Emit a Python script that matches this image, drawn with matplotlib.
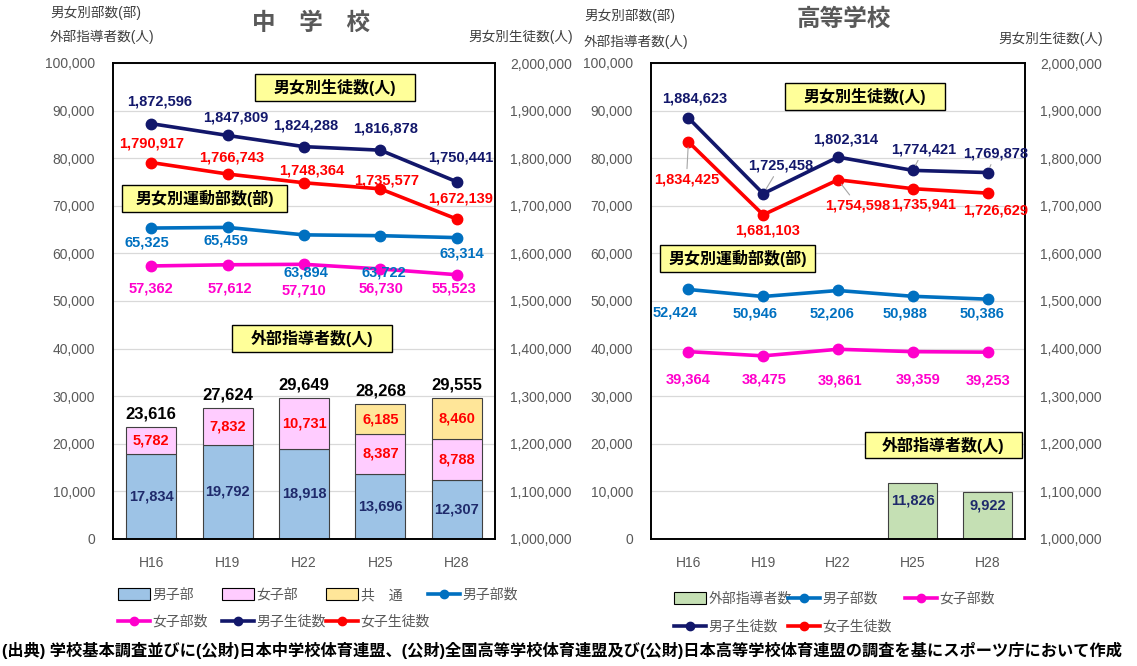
import matplotlib
matplotlib.use('Agg')
import matplotlib.pyplot as plt
from matplotlib.patches import Rectangle, Patch
from matplotlib.lines import Line2D
from matplotlib.ticker import FuncFormatter, MultipleLocator

plt.rcParams['font.family'] = ['Liberation Sans', 'Noto Sans CJK JP']

W, H = 1137, 666

years = ['H16', 'H19', 'H22', 'H25', 'H28']

# ---- 中学校 ----
jhs_coach_boys = [17834, 19792, 18918, 13696, 12307]
jhs_coach_girls = [5782, 7832, 10731, 8387, 8788]
jhs_coach_common = [0, 0, 0, 6185, 8460]
jhs_coach_total = [23616, 27624, 29649, 28268, 29555]
jhs_boys_clubs = [65325, 65459, 63894, 63722, 63314]
jhs_girls_clubs = [57362, 57612, 57710, 56730, 55523]
jhs_boys_students = [1872596, 1847809, 1824288, 1816878, 1750441]
jhs_girls_students = [1790917, 1766743, 1748364, 1735577, 1672139]

# ---- 高等学校 ----
hs_coaches = [None, None, None, 11826, 9922]
hs_boys_clubs = [52424, 50946, 52206, 50988, 50386]
hs_girls_clubs = [39364, 38475, 39861, 39359, 39253]
hs_boys_students = [1884623, 1725458, 1802314, 1774421, 1769878]
hs_girls_students = [1834425, 1681103, 1754598, 1735941, 1726629]

# label offsets (pixels)
off_jhs_bs = [(8, 22), (8, 18), (2, 21), (5, 22), (4, 24)]
off_jhs_gs = [(0, 19), (4, 17), (8, 12), (6, 8), (4, 21)]
off_jhs_bc = [(-4, -14), (-2, -13), (2, -38), (3, -37), (5, -16)]
off_jhs_gc = [(0, -23), (2, -24), (0, -26), (1, -20), (-3, -14)]
off_hs_bs = [(6, 19), (17, 28), (8, 18), (11, 21), (8, 19)]
off_hs_gs = [(-2, -38), (4, -16), (20, -26), (11, -16), (8, -17)]
off_hs_bc = [(-13, -23), (-8, -17), (-6, -23), (-8, -17), (-6, -14)]
off_hs_gc = [(0, -28), (1, -24), (2, -31), (5, -28), (0, -28)]

C_BC = '#0070C0'
C_GC = '#FF00CC'
C_BS = '#12176B'
C_GS = '#FF0000'
B_BOY = '#9DC3E6'
B_GIRL = '#FFCCFF'
B_COMMON = '#FFE699'
B_COACH = '#C5E0B4'
GRAY = '#595959'

fig = plt.figure(figsize=(W / 100, H / 100), dpi=100)

def px_ax(x0, y0, x1, y1):
    return fig.add_axes([x0 / W, 1 - y1 / H, (x1 - x0) / W, (y1 - y0) / H])

fmt = FuncFormatter(lambda v, p: f'{int(round(v)):,}')

def setup(ax, lpad, rpad):
    ax.set_xlim(-0.5, 4.5)
    ax.set_ylim(0, 100000)
    ax.yaxis.set_major_locator(MultipleLocator(10000))
    ax.yaxis.set_major_formatter(fmt)
    ax.grid(axis='y', color='#D9D9D9', lw=0.9)
    ax.set_axisbelow(True)
    ax.set_xticks(range(5))
    ax.set_xticklabels(years)
    ax.tick_params(axis='both', length=0, labelcolor=GRAY, labelsize=10)
    ax.tick_params(axis='x', pad=12)
    ax.tick_params(axis='y', pad=lpad)
    ax2 = ax.twinx()
    ax2.set_ylim(1000000, 2000000)
    ax2.yaxis.set_major_locator(MultipleLocator(100000))
    ax2.yaxis.set_major_formatter(fmt)
    ax2.tick_params(axis='y', length=0, labelcolor=GRAY, labelsize=10, pad=rpad)
    for a in (ax, ax2):
        for s in a.spines.values():
            s.set_color('#000000')
            s.set_linewidth(1.2)
    return ax2

def lab(ax, i, v, off, color, size=10.5, leader=False):
    kw = {}
    if leader:
        kw['arrowprops'] = dict(arrowstyle='-', color='#A6A6A6', lw=0.8, shrinkA=1, shrinkB=4)
    ax.annotate(f'{v:,}', (i, v), xytext=off, textcoords='offset pixels',
                ha='center', va='center', fontsize=size, fontweight='bold',
                color=color, zorder=10, **kw)

def line(ax, vals, color):
    ax.plot(range(len(vals)), vals, color=color, lw=2.6, marker='o', ms=7.5, zorder=5)

# ================= 中学校 =================
ax = px_ax(113, 63, 495, 539)
ax2 = setup(ax, 13, 11)
x = list(range(5))
bw = 0.655
ax.bar(x, jhs_coach_boys, bw, color=B_BOY, edgecolor='#404040', lw=0.8, zorder=2)
ax.bar(x, jhs_coach_girls, bw, bottom=jhs_coach_boys, color=B_GIRL, edgecolor='#404040', lw=0.8, zorder=2)
bot2 = [a + b for a, b in zip(jhs_coach_boys, jhs_coach_girls)]
ax.bar([i for i in x if jhs_coach_common[i] > 0], [c for c in jhs_coach_common if c > 0], bw,
       bottom=[bot2[i] for i in x if jhs_coach_common[i] > 0],
       color=B_COMMON, edgecolor='#404040', lw=0.8, zorder=2)
for i in x:
    ax.text(i, jhs_coach_boys[i] / 2, f'{jhs_coach_boys[i]:,}', ha='center', va='center',
            fontsize=10.5, fontweight='bold', color='#1F2A6B', zorder=6)
    ax.text(i, jhs_coach_boys[i] + jhs_coach_girls[i] / 2, f'{jhs_coach_girls[i]:,}', ha='center',
            va='center', fontsize=10.5, fontweight='bold', color=C_GS, zorder=6)
    if jhs_coach_common[i] > 0:
        ax.text(i, bot2[i] + jhs_coach_common[i] / 2, f'{jhs_coach_common[i]:,}', ha='center',
                va='center', fontsize=10.5, fontweight='bold', color=C_GS, zorder=6)
    ax.annotate(f'{jhs_coach_total[i]:,}', (i, jhs_coach_total[i]), xytext=(0, 13),
                textcoords='offset pixels', ha='center', va='center', fontsize=12,
                fontweight='bold', color='#000000', zorder=6)

line(ax, jhs_boys_clubs, C_BC)
line(ax, jhs_girls_clubs, C_GC)
line(ax2, jhs_boys_students, C_BS)
line(ax2, jhs_girls_students, C_GS)
for i in x:
    lab(ax2, i, jhs_boys_students[i], off_jhs_bs[i], C_BS)
    lab(ax2, i, jhs_girls_students[i], off_jhs_gs[i], C_GS)
    lab(ax, i, jhs_boys_clubs[i], off_jhs_bc[i], C_BC)
    lab(ax, i, jhs_girls_clubs[i], off_jhs_gc[i], C_GC)

# ================= 高等学校 =================
bx = px_ax(651, 63, 1025, 539)
bx2 = setup(bx, 13, 11)
cx = [i for i in x if hs_coaches[i] is not None]
cv = [hs_coaches[i] for i in cx]
bx.bar(cx, cv, bw, color=B_COACH, edgecolor='#404040', lw=0.8, zorder=2)
for i, v in zip(cx, cv):
    bx.annotate(f'{v:,}', (i, v / 2), xytext=(0, 10), textcoords='offset pixels', ha='center',
                va='center', fontsize=10.5, fontweight='bold', color='#1F2A6B', zorder=6)
line(bx, hs_boys_clubs, C_BC)
line(bx, hs_girls_clubs, C_GC)
line(bx2, hs_boys_students, C_BS)
line(bx2, hs_girls_students, C_GS)
lead_bs = [False, True, False, True, True]
lead_gs = [True, False, True, False, False]
for i in x:
    lab(bx2, i, hs_boys_students[i], off_hs_bs[i], C_BS, leader=lead_bs[i])
    lab(bx2, i, hs_girls_students[i], off_hs_gs[i], C_GS, leader=lead_gs[i])
    lab(bx, i, hs_boys_clubs[i], off_hs_bc[i], C_BC)
    lab(bx, i, hs_girls_clubs[i], off_hs_gc[i], C_GC)

# ---- boxes ----
def ybox(x0, y0, x1, y1, text):
    fig.patches.append(Rectangle((x0 / W, 1 - y1 / H), (x1 - x0) / W, (y1 - y0) / H,
                                 transform=fig.transFigure, facecolor='#FFFF99',
                                 edgecolor='#000000', lw=1.0, zorder=20))
    fig.text((x0 + x1) / 2 / W, 1 - (y0 + y1) / 2 / H, text, ha='center', va='center',
             fontsize=11.5, fontweight='bold', color='#000000', zorder=21)

ybox(255, 74, 415, 101, '男女別生徒数(人)')
ybox(122, 185, 287, 212, '男女別運動部数(部)')
ybox(232, 325, 392, 352, '外部指導者数(人)')
ybox(785, 83, 945, 110, '男女別生徒数(人)')
ybox(660, 245, 815, 272, '男女別運動部数(部)')
ybox(865, 432, 1022, 458, '外部指導者数(人)')

# ---- titles & axis captions ----
def ftext(xp, yp, s, **kw):
    fig.text(xp / W, 1 - yp / H, s, **kw)

ftext(311, 23, '中　学　校', ha='center', va='center', fontsize=17, fontweight='bold', color=GRAY)
ftext(844, 19, '高等学校', ha='center', va='center', fontsize=17, fontweight='bold', color=GRAY)
cap = dict(va='center', fontsize=9.8, color='#404040')
ftext(50, 13, '男女別部数(部)', ha='left', **cap)
ftext(50, 37, '外部指導者数(人)', ha='left', **cap)
ftext(573, 37, '男女別生徒数(人)', ha='right', **cap)
ftext(584, 16, '男女別部数(部)', ha='left', **cap)
ftext(584, 42, '外部指導者数(人)', ha='left', **cap)
ftext(1103, 39, '男女別生徒数(人)', ha='right', **cap)

# ---- legends ----
def hline(c):
    return Line2D([], [], color=c, lw=2.6, marker='o', ms=6)

def hpatch(c):
    return Patch(facecolor=c, edgecolor='#000000', lw=0.8)

def entry(h, label, xp, yp):
    fig.legend([h], [label], loc='center left', bbox_to_anchor=(xp / W, 1 - yp / H),
               frameon=False, fontsize=10, handlelength=2.3, handleheight=0.9,
               handletextpad=0.2, borderpad=0, borderaxespad=0, labelcolor=GRAY)

entry(hpatch(B_BOY), '男子部', 118, 595)
entry(hpatch(B_GIRL), '女子部', 222, 595)
entry(hpatch(B_COMMON), '共　通', 326, 595)
entry(hline(C_BC), '男子部数', 428, 595)
entry(hline(C_GC), '女子部数', 118, 622)
entry(hline(C_BS), '男子生徒数', 222, 622)
entry(hline(C_GS), '女子生徒数', 326, 622)

entry(hpatch(B_COACH), '外部指導者数', 674, 599)
entry(hline(C_BC), '男子部数', 788, 599)
entry(hline(C_GC), '女子部数', 905, 599)
entry(hline(C_BS), '男子生徒数', 674, 627)
entry(hline(C_GS), '女子生徒数', 788, 627)

ftext(2, 650, '(出典) 学校基本調査並びに(公財)日本中学校体育連盟、(公財)全国高等学校体育連盟及び(公財)日本高等学校体育連盟の調査を基にスポーツ庁において作成',
      ha='left', va='center', fontsize=11.7, fontweight='bold', color='#000000')

fig.savefig('out.png', dpi=100)
